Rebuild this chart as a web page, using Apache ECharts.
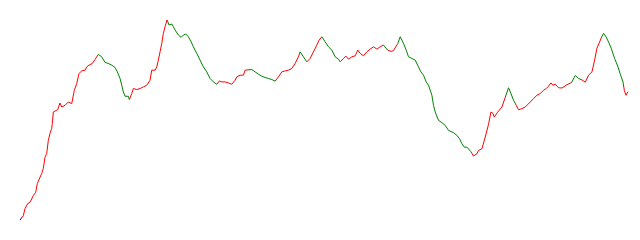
<!DOCTYPE html>
<html>
<head>
<meta charset="utf-8">
<script src="https://cdn.jsdelivr.net/npm/echarts@6/dist/echarts.min.js"></script>
<style>html,body{margin:0;padding:0;background:#fff}#c{width:640px;height:240px}</style>
</head>
<body>
<div id="c"></div>
<script>
var days = [0,1.5,3.3,5,7.7,10,13.3,15.7,17.3,20,21.7,23.3,25,26.7,28.3,30,31.7,32.3,33.3,35,37.7,40,41.7,45,48.3,51.7,53.3,54.3,56.7,59,61.7,65,66.7,69,72.3,75,78.3,81.7,85,88.3,91.7,95,97.3,100,101.7,103.3,105,108.3,109.3,111.7,113.3,116.7,120,123.3,126.7,128.3,130,131.7,135,136.7,138.3,140,141.7,143.3,145,147,149,151.7,153.3,155,158.3,161,163.3,165.7,168.3,171,173.3,176.7,180,183.3,186.7,190,193.3,196.7,199.3,201.7,205,208.3,211.7,215,216.7,220,223.3,225,226.7,231.7,235,238.3,241.7,245,248.3,251.7,255,258.3,261.7,265,268.3,271.7,275,278.3,280,283.3,286.7,290,293.3,296.7,299,301.7,305,308.3,311.7,315,318.3,320,323.3,325.7,328.3,331.7,335,337.7,340,343.3,346.7,350,353.3,356.7,360,363.3,367.5,371,373.3,375,377.7,380,381.7,383.3,386,388.3,391.7,395,398.3,400.7,403.3,406,408.3,411.7,413.3,415,418.3,421.7,425,428.3,433.3,436.7,439.3,441.7,444,446.7,450.5,453.3,456.7,458.3,461.7,465,468.3,470.7,472.7,474,477.3,481.7,485,488.3,490.7,493.3,496,498.3,501.7,505,510,513.3,516.7,520,523.3,526,528.3,530.7,532.7,535,538.3,541.7,546.7,551.3,555,558.3,561.7,565,568.3,571.7,574.3,576.7,579.3,581.3,583.3,585.7,588.3,591,594.3,597.7,600,602.7,604,605.7,607.7];
var values = [20.7,21,25,32,37,38.3,45,48.3,57,63.3,67,72,83.3,87,100,107,112,117,128.3,130,130.7,137.3,133.3,135,138.3,136.7,135,150,156.7,166.7,169.3,170,173.3,175,176.7,180.7,185.7,183.3,177.7,176.7,175,172.7,168.3,161.7,155,148.3,144,144,140.7,146.7,151.7,150.7,151.7,153.3,155,153.3,160,170,170,173.3,180,188.3,196.7,206.7,213.3,220,215,216,213.3,210,205,202.7,205,206,203.3,198.3,193.3,186.7,180,173.3,168.3,161.7,158.3,156,159.3,158.3,158.3,157.3,156,160,163.3,165,165,170,171.7,170.7,168.3,166,164,162.7,161.7,160.7,159,163.3,168.3,169.3,170,171.7,176.7,183.3,188.3,183.3,178.3,181.7,188.3,195,200,203.3,198.3,193.3,190,183.3,181,178.3,181.7,184,181,183.3,184.3,190,186.7,184.3,188.3,191,193.3,191,193.3,195,190,188.7,189.5,190,196.7,203.3,200,196.7,190,183.3,181.7,180,173.3,168.3,165,158.3,155,145,135,128.3,120,117.7,115,110,107.7,105,101.7,96.7,93.3,93.3,89,84.5,86.7,90,91.7,103.3,116,128.3,127,123.3,128,133.3,143,152.5,146.7,140,135,130.5,131.7,133.3,138.3,141.7,145,146.7,150,151.7,154,157.3,155,156,152.5,152.2,155.5,157.7,164.7,161.7,160.3,158,165,168.3,180,192,198,203,206.7,203.3,198,191.7,181.7,173.3,166,158.3,150,145,148.5,153];
// turning points (day) where the trend changes: rising = red, falling = green
var turns = [1.5,78.3,109.3,147,196.7,226.7,255,280,286.7,301.7,320,363.3,367.5,377.7,450.5,485,496,551.3,561.7,581.3,604,607.7];

var pieces = [];
for (var i = 0; i < turns.length - 1; i++) {
  pieces.push({gt: turns[i], lte: turns[i + 1], color: i % 2 === 0 ? 'red' : 'green'});
}
var data = days.map(function (d, i) { return [d, values[i]]; });

var chart = echarts.init(document.getElementById('c'));
chart.setOption({
  animation: false,
  grid: {left: 20, right: 12, top: 20, bottom: 20},
  xAxis: {type: 'value', min: 'dataMin', max: 'dataMax', show: false},
  yAxis: {type: 'value', min: 'dataMin', max: 'dataMax', show: false, scale: true},
  visualMap: {
    show: false,
    dimension: 0,
    pieces: pieces,
    outOfRange: {color: 'blue'}
  },
  series: [{
    type: 'line',
    data: data,
    showSymbol: false,
    lineStyle: {width: 1}
  }]
});
</script>
</body>
</html>
